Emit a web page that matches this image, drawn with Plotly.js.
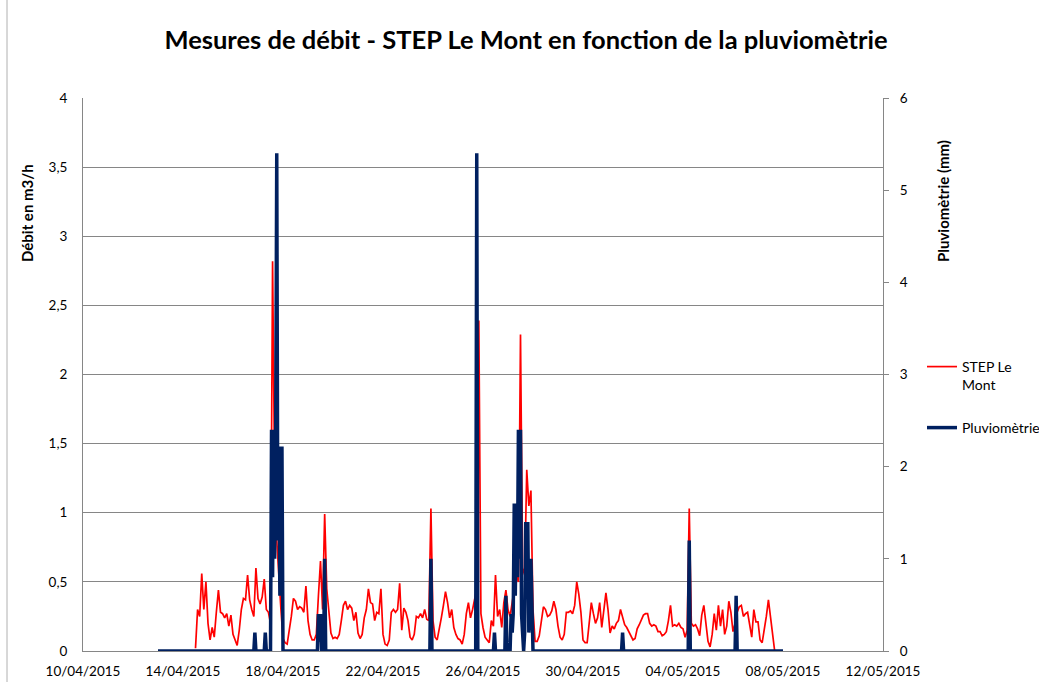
<!DOCTYPE html>
<html>
<head>
<meta charset="utf-8">
<script src="https://cdn.plot.ly/plotly-3.0.1.min.js"></script>
<style>
html,body{margin:0;padding:0;background:#fff;}
#chart{width:1039px;height:682px;}
</style>
</head>
<body>
<div id="chart"></div>
<script>
// ---- Data ----
// Débit STEP Le Mont (m3/h), one value every 2 hours starting 14/04/2015 12:00
const flowStart = '2015-04-14T12:00:00';
const flowStepHours = 2;
const flowDay14 = [0.02, 0.30, 0.25, 0.56, 0.30, 0.50];
const flowDay15 = [0.20, 0.08, 0.17, 0.10, 0.28, 0.44, 0.28, 0.27, 0.24, 0.27, 0.18, 0.26];
const flowDay16 = [0.12, 0.08, 0.04, 0.15, 0.30, 0.38, 0.37, 0.55, 0.37, 0.30, 0.25, 0.60];
const flowDay17 = [0.38, 0.34, 0.39, 0.52, 0.30, 0.28, 0.20, 2.82, 1.20, 0.80, 0.50, 0.30];
const flowDay18 = [0.09, 0.06, 0.05, 0.14, 0.25, 0.38, 0.36, 0.30, 0.32, 0.31, 0.28, 0.47];
const flowDay19 = [0.22, 0.12, 0.08, 0.08, 0.12, 0.40, 0.65, 0.30, 0.99, 0.45, 0.28, 0.13];
const flowDay20 = [0.09, 0.10, 0.09, 0.12, 0.22, 0.33, 0.36, 0.30, 0.33, 0.31, 0.22, 0.28];
const flowDay21 = [0.13, 0.09, 0.12, 0.24, 0.30, 0.45, 0.35, 0.34, 0.22, 0.28, 0.27, 0.45];
const flowDay22 = [0.12, 0.05, 0.04, 0.08, 0.28, 0.30, 0.28, 0.30, 0.49, 0.15, 0.31, 0.28];
const flowDay23 = [0.22, 0.10, 0.08, 0.12, 0.25, 0.24, 0.27, 0.24, 0.30, 0.23, 0.22, 1.03];
const flowDay24 = [0.22, 0.10, 0.08, 0.15, 0.24, 0.33, 0.43, 0.35, 0.24, 0.30, 0.17, 0.12];
const flowDay25 = [0.09, 0.08, 0.05, 0.12, 0.27, 0.35, 0.24, 0.30, 0.38, 0.45, 2.39, 0.27];
const flowDay26 = [0.17, 0.10, 0.08, 0.06, 0.22, 0.18, 0.55, 0.25, 0.30, 0.17, 0.35, 0.44];
const flowDay27 = [0.30, 0.25, 0.35, 0.45, 0.55, 0.50, 2.29, 0.60, 0.55, 1.31, 1.05, 1.16];
const flowDay28 = [0.30, 0.07, 0.07, 0.11, 0.23, 0.32, 0.30, 0.25, 0.26, 0.29, 0.36, 0.30];
const flowDay29 = [0.18, 0.10, 0.08, 0.12, 0.28, 0.28, 0.29, 0.27, 0.33, 0.50, 0.41, 0.28];
const flowDay30 = [0.08, 0.06, 0.06, 0.22, 0.35, 0.27, 0.20, 0.24, 0.35, 0.17, 0.28, 0.42];
const flowDay01 = [0.30, 0.13, 0.18, 0.16, 0.20, 0.22, 0.30, 0.25, 0.19, 0.17, 0.14, 0.10];
const flowDay02 = [0.08, 0.09, 0.16, 0.19, 0.23, 0.26, 0.27, 0.27, 0.20, 0.18, 0.19, 0.18];
const flowDay03 = [0.14, 0.14, 0.11, 0.12, 0.14, 0.22, 0.33, 0.18, 0.19, 0.18, 0.20, 0.17];
const flowDay04 = [0.16, 0.10, 0.15, 1.03, 0.20, 0.18, 0.19, 0.16, 0.11, 0.26, 0.33, 0.18];
const flowDay05 = [0.07, 0.03, 0.12, 0.27, 0.15, 0.33, 0.18, 0.30, 0.12, 0.18, 0.36, 0.28];
const flowDay06 = [0.14, 0.20, 0.28, 0.32, 0.33, 0.25, 0.27, 0.28, 0.19, 0.10, 0.30, 0.21];
const flowDay07 = [0.21, 0.08, 0.06, 0.15, 0.25, 0.37, 0.24, 0.15, 0.00];

// Pluviométrie (mm): hour offsets from 14/04/2015 00:00 and values
const rainHours = [-24, 68, 69, 70, 78, 79, 80,
  84, 85, 86, 87, 88, 89, 90, 91, 92, 93, 94, 95, 96,
  129, 130, 131, 132, 133, 135, 136, 137,
  237, 238, 239, 281, 282, 283, 298, 299, 300, 309, 310, 311,
  314, 315, 316, 317, 318, 319, 320, 321, 322, 323, 324, 325, 326, 327,
  328, 329, 330, 331, 332, 333, 334, 335, 336,
  421, 422, 423, 485, 486, 487, 530, 531, 532, 576];
const rainMm = [0, 0, 0.2, 0, 0, 0.2, 0,
  0, 2.4, 0.8, 2.4, 1.0, 2.4, 5.4, 1.2, 2.2, 0.6, 2.2, 2.2, 0,
  0, 0.4, 0.1, 0.4, 0, 0, 1.0, 0,
  0, 1.0, 0, 0, 5.4, 0, 0, 0.2, 0, 0, 0.6, 0,
  0, 0.4, 0.2, 0.4, 1.6, 0.6, 1.6, 0.8, 2.4, 1.0, 2.4, 0.4, 0.2, 0,
  0.2, 1.4, 0.6, 1.4, 0.2, 0.4, 1.0, 0.2, 0,
  0, 0.2, 0, 0, 1.2, 0, 0, 0.6, 0, 0];

const seriesNames = ['STEP Le<br>Mont', 'Pluviomètrie'];
const xTickStart = '2015-04-10';
const xRange = ['2015-04-10', '2015-05-12'];

// ---- Build traces ----
const HOUR = 3600 * 1000;
function fmt(ms) {
  const d = new Date(ms);
  const p = n => String(n).padStart(2, '0');
  return d.getUTCFullYear() + '-' + p(d.getUTCMonth() + 1) + '-' + p(d.getUTCDate()) +
    ' ' + p(d.getUTCHours()) + ':' + p(d.getUTCMinutes());
}
const flowValues = [].concat(flowDay14, flowDay15, flowDay16, flowDay17, flowDay18, flowDay19,
  flowDay20, flowDay21, flowDay22, flowDay23, flowDay24, flowDay25, flowDay26, flowDay27,
  flowDay28, flowDay29, flowDay30, flowDay01, flowDay02, flowDay03, flowDay04, flowDay05,
  flowDay06, flowDay07);
const flowT0 = Date.parse(flowStart + 'Z');
const flowX = flowValues.map((_, i) => fmt(flowT0 + i * flowStepHours * HOUR));
const rainT0 = Date.parse('2015-04-14T00:00:00Z');
const rainX = rainHours.map(h => fmt(rainT0 + h * HOUR));

const FONT = 'Lato, "Liberation Sans", sans-serif';
const GRID = '#868686';

const traces = [
  {x: flowX, y: flowValues, type: 'scatter', mode: 'lines', name: seriesNames[0],
   line: {color: '#FF0000', width: 1.7}, yaxis: 'y', legend: 'legend'},
  {x: rainX, y: rainMm, type: 'scatter', mode: 'lines', name: seriesNames[1],
   line: {color: '#002060', width: 3.5}, yaxis: 'y2', legend: 'legend2'}
];

const layout = {
  width: 1039, height: 682,
  margin: {l: 83, r: 156, t: 98, b: 31, pad: 0},
  paper_bgcolor: '#fff', plot_bgcolor: '#fff',
  separators: ', ',
  font: {family: FONT, size: 13, color: '#000'},
  title: {text: '<b>Mesures de débit - STEP Le Mont en fonction de la pluviomètrie</b>',
    font: {family: FONT, size: 25.5, color: '#000'},
    x: 526 / 1039, xref: 'container', xanchor: 'center',
    y: 1 - 40 / 682, yref: 'container', yanchor: 'middle'},
  xaxis: {type: 'date', range: xRange, tick0: xTickStart, dtick: 4 * 86400000,
    tickformat: '%d/%m/%Y', showgrid: false, zeroline: false, showline: true,
    linecolor: GRID, linewidth: 1, ticks: '', ticklabelstandoff: 8, automargin: false,
    tickfont: {family: FONT, size: 13.5, color: '#000'}},
  yaxis: {range: [0, 4], dtick: 0.5, tick0: 0, showgrid: true, gridcolor: GRID, gridwidth: 1,
    zeroline: false, showline: true, linecolor: GRID, ticks: '', ticklabelstandoff: 12,
    automargin: false, tickfont: {family: FONT, size: 13.5, color: '#000'}},
  yaxis2: {range: [0, 6], dtick: 1, tick0: 0, overlaying: 'y', side: 'right', showgrid: false,
    zeroline: false, showline: true, linecolor: GRID, ticks: 'outside', ticklen: 5,
    tickcolor: GRID, ticklabelstandoff: 8, automargin: false,
    tickfont: {family: FONT, size: 13.5, color: '#000'}},
  legend: {x: 922 / 1039, xref: 'container', xanchor: 'left', y: 1 - 351 / 682, yref: 'container',
    yanchor: 'top', valign: 'top', bgcolor: 'rgba(0,0,0,0)', borderwidth: 0,
    font: {family: FONT, size: 14, color: '#000'}},
  legend2: {x: 922 / 1039, xref: 'container', xanchor: 'left', y: 1 - 412 / 682, yref: 'container',
    yanchor: 'top', valign: 'top', bgcolor: 'rgba(0,0,0,0)', borderwidth: 0,
    font: {family: FONT, size: 14, color: '#000'}},
  annotations: [
    {text: '<b>Débit en m3/h</b>', textangle: -90, showarrow: false,
     xref: 'paper', yref: 'paper', x: (27 - 83) / 800, y: (651 - 213) / 553,
     xanchor: 'center', yanchor: 'middle', font: {family: FONT, size: 15, color: '#000'}},
    {text: '<b>Pluviomètrie (mm)</b>', textangle: -90, showarrow: false,
     xref: 'paper', yref: 'paper', x: (943 - 83) / 800, y: (651 - 201) / 553,
     xanchor: 'center', yanchor: 'middle', font: {family: FONT, size: 15, color: '#000'}}
  ],
  shapes: [
    {type: 'line', xref: 'paper', yref: 'paper', x0: (7 - 83) / 800, x1: (7 - 83) / 800,
     y0: -31 / 553, y1: 1 + 98 / 553, line: {color: '#b0b0b0', width: 1}}
  ],
  showlegend: true
};

Plotly.newPlot('chart', traces, layout, {displayModeBar: false, staticPlot: true});
</script>
</body>
</html>
